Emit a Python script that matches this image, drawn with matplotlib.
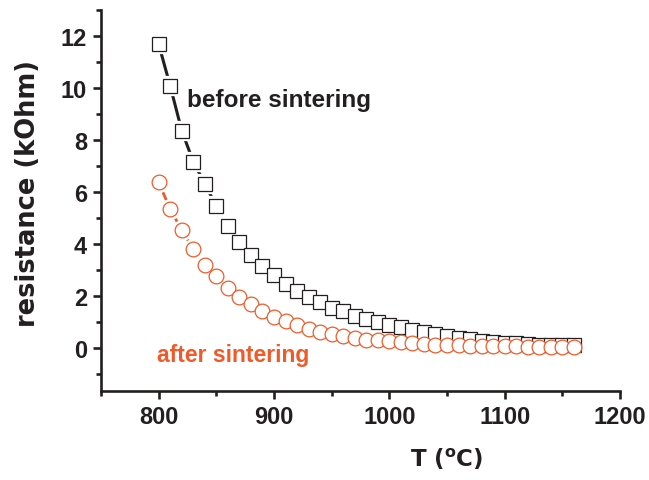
import matplotlib
matplotlib.use("Agg")
import matplotlib.pyplot as plt
from matplotlib.ticker import MultipleLocator

temperature = list(range(800, 1170, 10))
before_sintering = [11.69, 10.08, 8.36, 7.16, 6.31, 5.45, 4.68, 4.07, 3.55, 3.14,
                    2.78, 2.45, 2.17, 1.96, 1.74, 1.52, 1.40, 1.23, 1.10, 0.97,
                    0.87, 0.78, 0.67, 0.61, 0.52, 0.45, 0.39, 0.32, 0.26, 0.22,
                    0.19, 0.16, 0.13, 0.12, 0.10, 0.10, 0.09]
after_sintering = [6.36, 5.34, 4.52, 3.81, 3.20, 2.75, 2.29, 1.96, 1.70, 1.42,
                   1.19, 1.01, 0.88, 0.71, 0.62, 0.54, 0.45, 0.37, 0.31, 0.28,
                   0.25, 0.21, 0.18, 0.15, 0.12, 0.10, 0.09, 0.08, 0.07, 0.06,
                   0.05, 0.05, 0.04, 0.04, 0.03, 0.03, 0.03]

dark = "#231f20"
orange = "#f05a28"

plt.rcParams['font.family'] = ['Liberation Sans', 'DejaVu Sans']
plt.rcParams['font.weight'] = 'bold'

fig = plt.figure(figsize=(6.49, 4.81), dpi=100)
ax = fig.add_axes([0.1556, 0.185, 0.7997, 0.792])

styles = [(before_sintering, dark, 's', 9.6, 2.2),
          (after_sintering, orange, 'o', 10.6, 2.0)]

# connecting lines
for y, c, m, s, lw in styles:
    ax.plot(temperature, y, color=c, lw=lw, zorder=3)
# white halos leaving a gap between line and marker
for y, c, m, s, lw in styles:
    ax.plot(temperature, y, ls='none', marker=m, markersize=s,
            markerfacecolor='white', markeredgecolor='white',
            markeredgewidth=4.5, zorder=3.5)
# markers
for i, (y, c, m, s, lw) in enumerate(styles):
    ax.plot(temperature, y, ls='none', marker=m, markersize=s,
            markerfacecolor='white', markeredgecolor=c,
            markeredgewidth=0.9, zorder=4 + i)

ax.set_xlim(750, 1200)
ax.set_ylim(-1.67, 13.0)
ax.xaxis.set_major_locator(MultipleLocator(100))
ax.xaxis.set_minor_locator(MultipleLocator(50))
ax.yaxis.set_major_locator(MultipleLocator(2))
ax.yaxis.set_minor_locator(MultipleLocator(1))

for s in ['top', 'right']:
    ax.spines[s].set_visible(False)
for s in ['left', 'bottom']:
    ax.spines[s].set_linewidth(1.9)
    ax.spines[s].set_color(dark)

ax.tick_params(which='major', direction='out', length=6, width=1.9, color=dark,
               labelsize=17, labelcolor=dark, pad=4)
ax.tick_params(which='minor', direction='out', length=3.5, width=1.9, color=dark)
for lab in ax.get_xticklabels() + ax.get_yticklabels():
    lab.set_fontweight('bold')

ax.set_ylabel('resistance (kOhm)', fontsize=18.5, fontweight='bold', color=dark,
              family=['DejaVu Sans'])
ax.yaxis.set_label_coords(-0.115, 0.52)
ax.set_xlabel('T ($\\mathregular{^o}$C)', fontsize=16.5, fontweight='bold', color=dark,
              family=['DejaVu Sans'])
ax.xaxis.set_label_coords(0.665, -0.145)

ax.text(825, 9.3, 'before sintering', fontsize=17.5, fontweight='bold', color=dark)
ax.text(799, -0.5, 'after sintering', fontsize=16.5, fontweight='bold', color=orange)

fig.savefig('out.png', dpi=100)
